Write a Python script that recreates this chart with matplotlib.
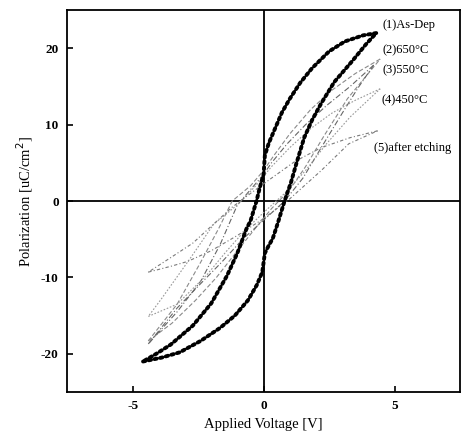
import matplotlib.pyplot as plt

plt.rcParams['font.family'] = ['Liberation Serif', 'DejaVu Serif']
plt.rcParams['axes.unicode_minus'] = False

# (1) As-Dep : thick dotted loop
up1_v = [4.3, 3.8, 3.1, 2.5, 1.85, 1.4, 1.0, 0.7, 0.45, 0.2, 0.05, 0.0, -0.15, -0.27,
         -0.5, -0.65, -1.0, -1.4, -2.0, -2.7, -3.55, -4.1, -4.6]
up1_p = [22.0, 21.7, 20.9, 19.6, 17.4, 15.5, 13.4, 11.6, 9.6, 7.6, 6.0, 3.5, 1.7, 0.0,
         -2.6, -3.6, -6.8, -9.8, -13.4, -16.3, -18.8, -20.0, -21.0]
lo1_v = [-4.6, -3.9, -3.2, -2.4, -1.66, -1.1, -0.6, -0.26, -0.05, 0.05, 0.2, 0.35, 0.55,
         0.8, 1.05, 1.25, 1.55, 1.85, 2.2, 2.7, 3.4, 3.9, 4.3]
lo1_p = [-21.0, -20.5, -19.8, -18.3, -16.6, -15.0, -13.0, -11.0, -9.3, -6.8, -5.8, -4.9, -2.8,
         0.0, 2.5, 4.9, 8.3, 10.6, 12.8, 15.6, 18.4, 20.5, 22.0]

# (2) 650C
up2_v = [4.45, 3.5, 2.6, 1.8, 1.0, 0.4, 0.0, -0.5, -1.2, -1.7, -2.4, -3.3, -4.4]
up2_p = [18.6, 16.7, 14.5, 12.0, 8.8, 6.0, 4.0, 2.0, 0.0, -3.5, -8.0, -13.5, -18.3]
lo2_v = [-4.4, -3.5, -2.6, -1.8, -1.0, -0.3, 0.3, 1.0, 1.6, 2.3, 3.2, 4.45]
lo2_p = [-18.3, -16.0, -13.0, -10.0, -6.5, -3.5, -1.0, 1.5, 4.5, 8.5, 13.4, 18.6]

# (3) 550C
up3_v = [4.2, 3.3, 2.4, 1.6, 0.9, 0.3, 0.0, -0.5, -1.0, -1.66, -2.4, -3.3, -4.4]
up3_p = [17.8, 15.0, 12.5, 10.0, 7.5, 5.0, 3.5, 1.5, -0.5, -5.7, -10.5, -14.5, -18.7]
lo3_v = [-4.4, -3.3, -2.4, -1.6, -0.8, 0.0, 0.8, 1.5, 2.2, 3.0, 3.6, 4.2]
lo3_p = [-18.7, -14.0, -10.8, -8.0, -5.0, -2.5, 0.0, 3.0, 7.0, 11.5, 14.8, 17.8]

# (4) 450C
up4_v = [4.45, 3.5, 2.6, 1.8, 1.0, 0.3, -0.3, -1.0, -1.9, -2.8, -3.9, -4.4]
up4_p = [14.7, 13.2, 11.5, 9.5, 7.0, 4.5, 2.0, -0.5, -3.0, -7.5, -12.8, -15.1]
lo4_v = [-4.4, -3.3, -2.15, -1.4, -0.7, 0.0, 0.8, 1.6, 2.4, 3.3, 4.45]
lo4_p = [-15.1, -13.5, -9.6, -6.5, -3.8, -1.5, 1.0, 4.0, 7.5, 11.0, 14.7]

# (5) after etching
up5_v = [4.35, 3.3, 2.2, 1.2, 0.3, -0.5, -1.2, -2.0, -2.7, -3.5, -4.4]
up5_p = [9.2, 8.3, 7.0, 5.2, 3.0, 1.0, -0.8, -3.3, -5.5, -7.3, -9.3]
lo5_v = [-4.4, -3.5, -2.9, -2.0, -1.0, 0.0, 1.0, 2.2, 3.25, 4.35]
lo5_p = [-9.3, -8.5, -7.9, -6.5, -4.5, -2.3, 0.3, 4.0, 7.5, 9.2]

labels = ['(1)As-Dep', '(2)650°C', '(3)550°C', '(4)450°C', '(5)after etching']
label_x = [4.55, 4.55, 4.55, 4.5, 4.2]
label_y = [23.0, 19.7, 17.1, 13.2, 7.0]

fig = plt.figure(figsize=(4.69, 4.41), dpi=100)
ax = fig.add_axes([0.143, 0.111, 0.838, 0.866])

ax.axhline(0, color='black', lw=1.3, zorder=1)
ax.axvline(0, color='black', lw=1.3, zorder=1)

thin = [
    (up2_v, up2_p, lo2_v, lo2_p, '#8a8a8a', (0, (4, 2))),
    (up3_v, up3_p, lo3_v, lo3_p, '#666666', (0, (5, 2, 1, 2))),
    (up4_v, up4_p, lo4_v, lo4_p, '#999999', (0, (1.5, 1.5))),
    (up5_v, up5_p, lo5_v, lo5_p, '#7a7a7a', (0, (3, 2, 1, 2))),
]
for uv, up, lv, lp, c, ls in thin:
    ax.plot(uv, up, color=c, lw=0.8, ls=ls, zorder=2)
    ax.plot(lv, lp, color=c, lw=0.8, ls=ls, zorder=2)

for v, p in [(up1_v, up1_p), (lo1_v, lo1_p)]:
    ax.plot(v, p, color='black', lw=2.8, ls=(0, (0.6, 0.9)),
            dash_capstyle='round', zorder=3)

for t, x, y in zip(labels, label_x, label_y):
    ax.text(x, y, t, fontsize=9, va='center', ha='left')

ax.set_xlim(-7.5, 7.5)
ax.set_ylim(-25, 25)
ax.set_xticks([-5, 0, 5])
ax.set_yticks([-20, -10, 0, 10, 20])
ax.tick_params(direction='in', length=4, width=1.2, labelsize=9.5, pad=6)
for s in ax.spines.values():
    s.set_linewidth(1.3)
for lab in ax.get_xticklabels() + ax.get_yticklabels():
    lab.set_fontweight('bold')

ax.set_xlabel('Applied Voltage [V]', fontsize=10.5)
ax.set_ylabel('Polarization [uC/cm$^2$]', fontsize=10.5)

fig.savefig('out.png', dpi=100)
